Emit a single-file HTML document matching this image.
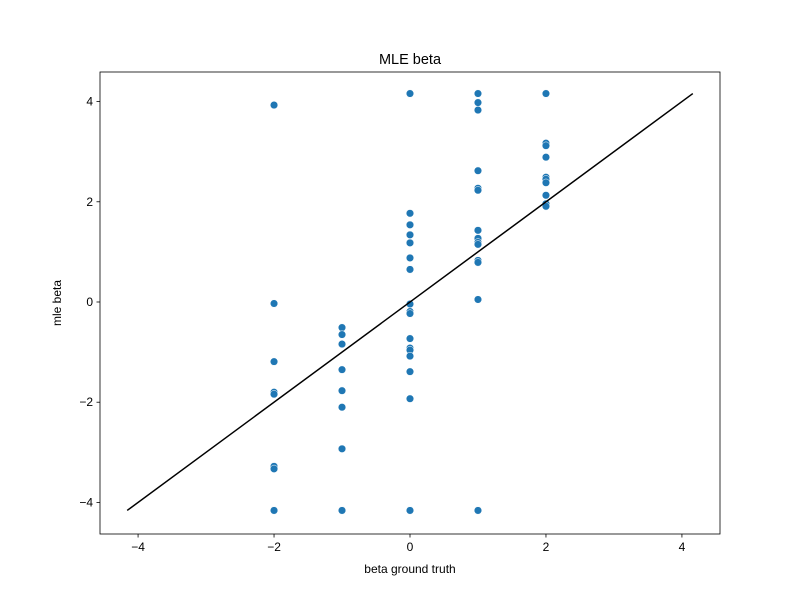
<!DOCTYPE html>
<html><head><meta charset="utf-8"><style>
body{margin:0;background:#fff}
svg{display:block;font-family:"Liberation Sans","DejaVu Sans",sans-serif}
</style></head><body>
<svg id="chart" width="800" height="600"></svg>
<script>
const groupsX = [-2, -1, 0, 1, 2];
const valuesM2 = [3.93, -0.03, -1.19, -1.80, -1.84, -3.28, -3.33, -4.16];
const valuesM1 = [-0.51, -0.65, -0.84, -1.35, -1.77, -2.10, -2.93, -4.16];
const values0 = [4.16, 1.77, 1.54, 1.34, 1.18, 0.88, 0.65, -0.04, -0.19, -0.23, -0.73, -0.92, -0.96, -1.08, -1.39, -1.93, -4.16];
const valuesP1 = [4.16, 3.98, 3.83, 2.62, 2.27, 2.23, 1.43, 1.27, 1.19, 1.15, 0.83, 0.79, 0.05, -4.16];
const valuesP2 = [4.16, 3.17, 3.12, 2.89, 2.49, 2.45, 2.38, 2.13, 1.96, 1.91];
const lineEnds = [-4.16, 4.16];
const xTicks = [-4, -2, 0, 2, 4];
const yTicks = [-4, -2, 0, 2, 4];

const L=100,R=720,T=72,B=534;
const xmin=-4.56,xmax=4.56,ymin=-4.63,ymax=4.59;
const sx=v=>L+(v-xmin)/(xmax-xmin)*(R-L);
const sy=v=>B-(v-ymin)/(ymax-ymin)*(B-T);
const svg=document.getElementById('chart');
const NS='http://www.w3.org/2000/svg';
function mk(tag,attrs,text){const e=document.createElementNS(NS,tag);for(const k in attrs)e.setAttribute(k,attrs[k]);if(text!==undefined)e.textContent=text;svg.appendChild(e);return e;}

const all=[valuesM2,valuesM1,values0,valuesP1,valuesP2];
all.forEach((arr,gi)=>arr.forEach(v=>{
  const c=mk('circle',{cx:sx(groupsX[gi]),cy:sy(v),r:3.8,fill:'#1f77b4',stroke:'#fff','stroke-width':0.5});
  
  
}));
const ln=mk('line',{x1:sx(lineEnds[0]),y1:sy(lineEnds[0]),x2:sx(lineEnds[1]),y2:sy(lineEnds[1]),stroke:'#000','stroke-width':1.5});



const fr=mk('rect',{x:L,y:T,width:R-L,height:B-T,fill:'none',stroke:'#000','stroke-width':0.8});



xTicks.forEach(t=>{
  mk('line',{x1:sx(t),x2:sx(t),y1:B,y2:B+3.5,stroke:'#000','stroke-width':0.8});
  const tx=mk('text',{x:sx(t),y:B+17,'text-anchor':'middle','font-size':12},(t<0?'\u2212':'')+Math.abs(t));
  
  
});
yTicks.forEach(t=>{
  mk('line',{x1:L-3.5,x2:L,y1:sy(t),y2:sy(t),stroke:'#000','stroke-width':0.8});
  const tx=mk('text',{x:L-7,y:sy(t)+4,'text-anchor':'end','font-size':12},(t<0?'\u2212':'')+Math.abs(t));
  
  
});
const title=mk('text',{x:410,y:64,'text-anchor':'middle','font-size':14.5},'MLE beta');


const xl=mk('text',{x:410,y:573,'text-anchor':'middle','font-size':12},'beta ground truth');


const yl=mk('text',{x:61,y:303,'text-anchor':'middle','font-size':12,transform:'rotate(-90 61 303)'},'mle beta');


</script>
</body></html>
